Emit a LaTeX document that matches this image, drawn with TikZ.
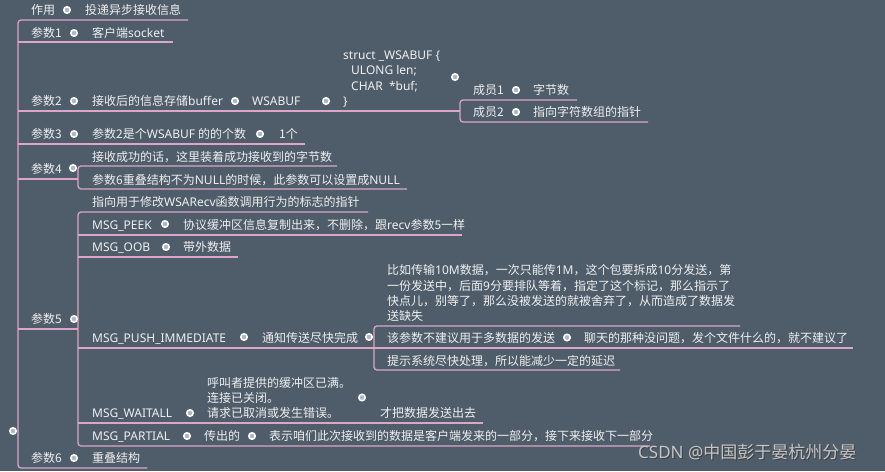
\documentclass[tikz,border=0pt]{standalone}
\usepackage{fontspec}
\setmainfont{Noto Sans CJK SC}
\newfontfamily\lat{Noto Sans}
\definecolor{bg}{HTML}{4F5D6B}
\definecolor{ln}{HTML}{DDA6C8}
\definecolor{tx}{HTML}{EFEFEF}
\definecolor{dotc}{HTML}{AEB7C6}
\definecolor{wm}{HTML}{C4C6C8}
\begin{document}
\begin{tikzpicture}[x=1pt,y=-1pt,
  t/.style={anchor=base west, inner sep=0pt, text=tx, font=\fontsize{12}{15}\selectfont},
  kdot/.style={circle, draw=white, line width=1.5pt, fill=dotc, minimum size=6.5pt, inner sep=0pt},
  br/.style={draw=ln, line width=1.2pt, rounded corners=3pt}]
\fill[bg] (0,0) rectangle (885,471);
\useasboundingbox (0,0) rectangle (885,471);

% ---------- connectors (underlines / brackets) ----------
\coordinate (r0) at (18,20);
\coordinate (r1) at (18,468);
\draw[br] (188,20) -- (r0) -- (r1) -- (147,468);
\draw[br] (18,42) -- (173,42);
\draw[br] (18,111) -- (460,111);
\draw[br] (18,144) -- (305,144);
\draw[br] (18,179) -- (78,179);
\draw[br] (18,329) -- (78,329);
% members
\draw[br] (577,100) -- (460,100) -- (460,122) -- (648,122);
% param4
\draw[br] (337,166) -- (78,166) -- (78,189) -- (407,189);
% param5
\draw[br] (368,212) -- (78,212) -- (78,446) -- (650,446);
\draw[br] (78,235) -- (462,235);
\draw[br] (78,257) -- (238,257);
\draw[br] (78,348) -- (853,348);
\draw[br] (78,423) -- (483,423);
% push immediate
\draw[br] (740,326) -- (374,326) -- (374,370) -- (620,370);

% ---------- texts ----------
\node[t] (a0) at (31,14.5) {作用};
\node[kdot] (d0) at (67,10) {};
\node[t] (a1) at (85,14.5) {投递异步接收信息};

\node[t] (p1) at (31,37.5) {参数1};
\node[kdot] (d1) at (74,33) {};
\node[t] (p1a) at (92,37.5) {客户端{\lat socket}};

\node[t] (p2) at (31,105.5) {参数2};
\node[kdot] (d2) at (74,101) {};
\node[t] (p2a) at (92,105.5) {接收后的信息存储{\lat buffer}};
\node[kdot] (d2a) at (235,101) {};
\node[t] (p2b) at (252,105.5) {\lat WSABUF};
\node[kdot] (d2b) at (326,101) {};
\node[t] (s1) at (343,59.5) {\lat struct \_WSABUF \{};
\node[t] (s2) at (351,74.5) {\lat ULONG len;};
\node[t] (s3) at (351,90.5) {\lat CHAR\ \ *buf;};
\node[t] (s4) at (343,105.5) {\lat \}};
\node[kdot] (ds) at (455,77) {};
\node[t] (m1) at (473,94.5) {成员1};
\node[kdot] (dm1) at (516,90) {};
\node[t] (m1a) at (533,94.5) {字节数};
\node[t] (m2) at (473,116.5) {成员2};
\node[kdot] (dm2) at (516,112) {};
\node[t] (m2a) at (533,116.5) {指向字符数组的指针};

\node[t] (p3) at (31,138.5) {参数3};
\node[kdot] (d3) at (74,134) {};
\node[t] (p3a) at (92,138.5) {参数2是个{\lat WSABUF }的的个数};
\node[kdot] (d3a) at (260,134) {};
\node[t] (p3b) at (279,138.5) {1个};

\node[t] (p4) at (31,173.5) {参数4};
\node[kdot] (d4) at (73,168) {};
\node[t] (p4a) at (92,161.5) {接收成功的话，这里装着成功接收到的字节数};
\node[t] (p4b) at (92,184) {参数6重叠结构不为{\lat NULL}的时候，此参数可以设置成{\lat NULL}};

\node[t] (p5) at (31,323.5) {参数5};
\node[kdot] (d5) at (74,319) {};
\node[t] (f0) at (92,206) {指向用于修改{\lat WSARecv}函数调用行为的标志的指针};
\node[t] (f1) at (92,229) {\lat MSG\_PEEK};
\node[kdot] (df1) at (165,224) {};
\node[t] (f1a) at (183,229) {协议缓冲区信息复制出来，不删除，跟{\lat recv}参数5一样};
\node[t] (f2) at (92,251.5) {\lat MSG\_OOB};
\node[kdot] (df2) at (166,247) {};
\node[t] (f2a) at (183,251.5) {带外数据};
\node[t] (f3) at (92,342) {\lat MSG\_PUSH\_IMMEDIATE};
\node[kdot] (df3) at (244,337) {};
\node[t] (f3a) at (262,342) {通知传送尽快完成};
\node[kdot] (df3a) at (369,337) {};
\node[t] (g1) at (387,274.5) {比如传输{\lat 10M}数据，一次只能传{\lat 1M}，这个包要拆成{\lat 10}分发送，第};
\node[t] (g2) at (387,290) {一份发送中，后面{\lat 9}分要排队等着，指定了这个标记，那么指示了};
\node[t] (g3) at (387,305.5) {快点儿，别等了，那么没被发送的就被舍弃了，从而造成了数据发};
\node[t] (g4) at (387,320.5) {送缺失};
\node[t] (h1) at (387,342) {该参数不建议用于多数据的发送};
\node[kdot] (dh1) at (567,337.5) {};
\node[t] (h1a) at (584,342) {聊天的那种没问题，发个文件什么的，就不建议了};
\node[t] (h2) at (387,365.5) {提示系统尽快处理，所以能减少一定的延迟};
\node[t] (f4) at (92,417.5) {\lat MSG\_WAITALL};
\node[kdot] (df4) at (190,413) {};
\node[t] (w1) at (207,387.5) {呼叫者提供的缓冲区已满。};
\node[t] (w2) at (207,402.5) {连接已关闭。};
\node[t] (w3) at (207,417.5) {请求已取消或发生错误。};
\node[kdot] (dw) at (362,397.5) {};
\node[t] (w4) at (380,417.5) {才把数据发送出去};
\node[t] (f5) at (92,440.5) {\lat MSG\_PARTIAL};
\node[kdot] (df5) at (187,436) {};
\node[t] (f5a) at (204,440.5) {传出的};
\node[kdot] (df5a) at (252,436) {};
\node[t] (f5b) at (269,440.5) {表示咱们此次接收到的数据是客户端发来的一部分，接下来接收下一部分};

\node[t] (p6) at (31,462.5) {参数6};
\node[kdot] (d6) at (74,458) {};
\node[t] (p6a) at (92,462.5) {重叠结构};

\node[kdot] (root) at (13,431) {};

% watermark
\node[anchor=base west, inner sep=0pt, text=black!75, font=\fontsize{17}{20}\selectfont] (wms) at (639,459) {{\lat CSDN @}中国彭于晏杭州分晏};
\node[anchor=base west, inner sep=0pt, text=wm, font=\fontsize{17}{20}\selectfont] (wmk) at (638,458) {{\lat CSDN @}中国彭于晏杭州分晏};
\end{tikzpicture}
\end{document}
